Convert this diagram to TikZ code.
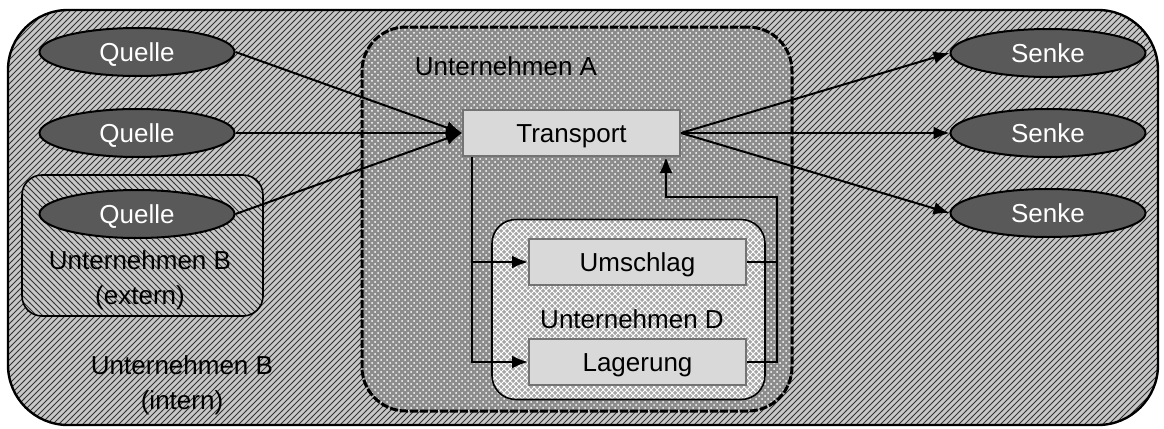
\documentclass[tikz,border=0pt]{standalone}
\usepackage{fontspec}
\setmainfont{Liberation Sans}
\usetikzlibrary{shapes,arrows.meta,patterns}
\usetikzlibrary{backgrounds}

\begin{document}
\begin{tikzpicture}[x=0.5pt,y=-0.5pt]
\tikzstyle{every node}=[font=\fontsize{13}{17.5}\selectfont, inner sep=0pt];
\tikzstyle{quelle}=[ellipse, draw, line width=1pt, fill=black!65, text=white,
  minimum width=97.5pt, minimum height=24pt, text height=9.3pt, text depth=0pt];
\tikzstyle{prozess}=[rectangle, draw=black!55, line width=1pt, fill=black!15,
  minimum width=108.5pt, minimum height=23pt, text height=9.3pt, text depth=0pt];
\tikzstyle{fluss}=[line width=1pt, -{Latex[length=8pt,width=6.5pt]}];
\useasboundingbox (0,0) rectangle (1164,429);

% Unternehmen B (intern), outer frame
\draw (583,217.5) node[draw, line width=1.2pt, rounded corners=30pt,
  minimum width=575pt, minimum height=207.5pt,
  preaction={fill=black!22}, pattern=north east lines, pattern color=black!80] (bi) {};
\draw (182,385) node[align=center] (bilabel) {Unternehmen B\\(intern)};

% Unternehmen B (extern)
\draw (142.5,245.5) node[draw, line width=0.8pt, rounded corners=10pt,
  minimum width=120.5pt, minimum height=70.5pt,
  preaction={fill=black!22}, pattern=north west lines, pattern color=black!80] (be) {};
\draw (140,280) node[align=center] (belabel) {Unternehmen B\\(extern)};

% Unternehmen A
\draw (577,219) node[draw, line width=1.5pt, dash pattern=on 4pt off 1pt, rounded corners=22pt,
  minimum width=215pt, minimum height=192pt,
  preaction={fill=black!45}, pattern=crosshatch dots, pattern color=white] (ua) {};
\draw (506,66) node (ualabel) {Unternehmen A};

% Unternehmen D
\draw (628.5,309.5) node[draw, line width=0.8pt, rounded corners=12pt,
  minimum width=136.5pt, minimum height=90pt,
  preaction={fill=black!35}, pattern=crosshatch, pattern color=white] (ud) {};
\draw (632,319) node (udlabel) {Unternehmen D};

% Quellen und Senken
\draw (137,52) node[quelle] (q1) {Quelle};
\draw (137,133) node[quelle] (q2) {Quelle};
\draw (137,214) node[quelle] (q3) {Quelle};
\draw (1048,53) node[quelle] (s1) {Senke};
\draw (1048,133) node[quelle] (s2) {Senke};
\draw (1048,213) node[quelle] (s3) {Senke};

% Prozesse
\draw (571.5,133) node[prozess] (t) {Transport};
\draw (637.5,262) node[prozess] (u) {Umschlag};
\draw (637.5,362) node[prozess] (l) {Lagerung};

\coordinate (tout) at (472,157);
\coordinate (tin) at (666,157);
\coordinate (ret) at (777,197);

\draw[fluss] (q1.east) -- (t.west);
\draw[fluss] (q2.east) -- (t.west);
\draw[fluss] (q3.east) -- (t.west);
\draw[fluss] (t.east) -- (s1.west);
\draw[fluss] (t.east) -- (s2.west);
\draw[fluss] (t.east) -- (s3.west);

\draw[fluss] (tout) |- (u.west);
\draw[fluss] (tout) |- (l.west);
\draw[line width=1pt] (u.east) -- (u.east -| ret);
\draw[fluss] (l.east) -| (ret) -| (tin);
\end{tikzpicture}
\end{document}
